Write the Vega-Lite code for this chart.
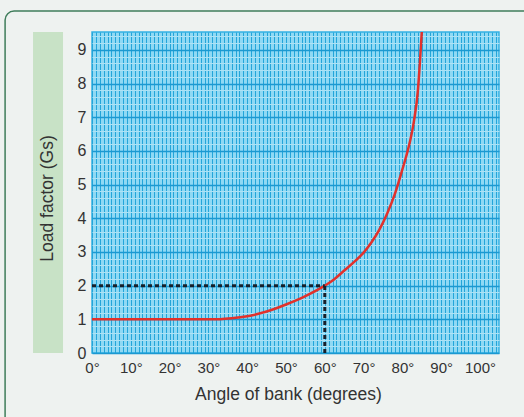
{
  "$schema": "https://vega.github.io/schema/vega-lite/v6.json",
  "width": 407,
  "height": 321,
  "autosize": {"type": "none"},
  "padding": {"left": 92, "top": 32, "right": 25, "bottom": 64},
  "background": "#eef2f0",
  "config": {
    "font": "Liberation Sans",
    "view": {"fill": "#8fd9f4", "stroke": "#33b1e4", "strokeWidth": 1.5}
  },
  "resolve": {"axis": {"y": "independent"}},
  "datasets": {
    "curve": [
      {"angle": 0, "load": 1},
      {"angle": 10, "load": 1},
      {"angle": 20, "load": 1},
      {"angle": 30, "load": 1},
      {"angle": 33, "load": 1.005},
      {"angle": 36, "load": 1.03},
      {"angle": 40, "load": 1.09},
      {"angle": 45, "load": 1.23},
      {"angle": 50, "load": 1.44},
      {"angle": 55, "load": 1.69},
      {"angle": 60, "load": 2},
      {"angle": 62, "load": 2.15},
      {"angle": 65, "load": 2.45},
      {"angle": 68, "load": 2.75},
      {"angle": 70, "load": 2.98},
      {"angle": 72, "load": 3.28},
      {"angle": 74, "load": 3.65},
      {"angle": 76, "load": 4.12},
      {"angle": 78, "load": 4.7},
      {"angle": 80, "load": 5.45},
      {"angle": 81, "load": 5.85},
      {"angle": 82, "load": 6.3},
      {"angle": 83, "load": 6.9},
      {"angle": 84, "load": 7.8},
      {"angle": 84.5, "load": 8.6},
      {"angle": 85, "load": 9.53}
    ],
    "guides": [
      {"angle": 0, "angle2": 60, "load": 2, "load2": 2},
      {"angle": 60, "angle2": 60, "load": 0, "load2": 2}
    ],
    "frame": [{"name": "panel"}]
  },
  "layer": [
    {
      "data": {"name": "frame"},
      "mark": {"type": "rect", "clip": false, "fill": null, "filled": false, "stroke": "#3f7d5b", "strokeWidth": 1.5, "cornerRadius": 9},
      "encoding": {
        "x": {"datum": -22.4, "type": "quantitative", "scale": {"domain": [0, 104.9], "nice": false, "zero": false}},
        "x2": {"datum": 160},
        "y": {"datum": 10.15, "type": "quantitative", "scale": {"domain": [0, 9.53], "nice": false}, "axis": null},
        "y2": {"datum": -12}
      }
    },
    {
      "data": {"name": "frame"},
      "mark": {"type": "rect", "clip": false, "fill": "#c8e2c6", "stroke": null},
      "encoding": {
        "x": {"datum": -15.2, "type": "quantitative", "scale": {"domain": [0, 104.9], "nice": false, "zero": false}},
        "x2": {"datum": -7.47},
        "y": {
          "datum": 0,
          "type": "quantitative",
          "scale": {"domain": [0, 9.53], "nice": false},
          "axis": {
            "orient": "left",
            "title": "Load factor (Gs)",
            "values": [0,1,2,3,4,5,6,7,8,9],
            "tickCount": 100,
            "format": "d",
            "labelOverlap": false,
            "labelBound": false,
            "labelFlush": false,
            "labelFontSize": 16,
            "labelColor": "#333333",
            "labelPadding": 6,
            "ticks": false,
            "domain": false,
            "grid": false,
            "zindex": 1,
            "titleFontSize": 17.5,
            "titleFontWeight": "normal",
            "titleColor": "#333333",
            "titleAngle": -90,
            "titleX": -45,
            "titleY": 166,
            "titleAnchor": null,
            "titleAlign": "center",
            "titleBaseline": "middle"
          }
        },
        "y2": {"datum": 9.53}
      }
    },
    {
      "data": {"name": "curve"},
      "mark": {"type": "line", "color": "#e2312b", "strokeWidth": 2.5, "interpolate": "monotone", "clip": false},
      "encoding": {
        "x": {
          "field": "angle",
          "type": "quantitative",
          "scale": {"domain": [0, 104.9], "nice": false, "zero": false},
          "axis": {
            "orient": "bottom",
            "title": "Angle of bank (degrees)",
            "values": [0,1,2,3,4,5,6,7,8,9,10,11,12,13,14,15,16,17,18,19,20,21,22,23,24,25,26,27,28,29,30,31,32,33,34,35,36,37,38,39,40,41,42,43,44,45,46,47,48,49,50,51,52,53,54,55,56,57,58,59,60,61,62,63,64,65,66,67,68,69,70,71,72,73,74,75,76,77,78,79,80,81,82,83,84,85,86,87,88,89,90,91,92,93,94,95,96,97,98,99,100,101,102,103,104],
            "tickCount": 1000,
            "labelExpr": "datum.value % 10 === 0 && datum.value <= 100 ? datum.value + '°' : ''",
            "labelOverlap": false,
            "labelBound": false,
            "labelFlush": false,
            "labelFontSize": 15,
            "labelColor": "#333333",
            "labelPadding": 7,
            "ticks": false,
            "domain": false,
            "grid": true,
            "gridColor": "#24a5d9",
            "gridWidth": 1,
            "gridOpacity": 1,
            "titleFontSize": 17.5,
            "titleFontWeight": "normal",
            "titleColor": "#333333",
            "titleX": 196,
            "titleY": 41,
            "titleAnchor": null,
            "titleAlign": "center",
            "titleBaseline": "middle"
          }
        },
        "y": {
          "field": "load",
          "type": "quantitative",
          "scale": {"domain": [0, 9.53], "nice": false},
          "axis": {
            "orient": "left",
            "title": null,
            "values": [0,0.2,0.4,0.6,0.8,1,1.2,1.4,1.6,1.8,2,2.2,2.4,2.6,2.8,3,3.2,3.4,3.6,3.8,4,4.2,4.4,4.6,4.8,5,5.2,5.4,5.6,5.8,6,6.2,6.4,6.6,6.8,7,7.2,7.4,7.6,7.8,8,8.2,8.4,8.6,8.8,9,9.2,9.4],
            "tickCount": 1000,
            "labels": false,
            "ticks": false,
            "domain": false,
            "grid": true,
            "zindex": 0,
            "gridColor": {"condition": {"test": "abs(datum.value - round(datum.value)) < 0.01", "value": "#1b99d1"}, "value": "#ade2f5"},
            "gridWidth": {"condition": {"test": "abs(datum.value - round(datum.value)) < 0.01", "value": 1.5}, "value": 1},
            "gridOpacity": 1
          }
        }
      }
    },
    {
      "data": {"name": "guides"},
      "mark": {"type": "rule", "color": "#17202b", "strokeWidth": 3, "strokeDash": [4, 3], "clip": false},
      "encoding": {
        "x": {"field": "angle", "type": "quantitative", "scale": {"domain": [0, 104.9], "nice": false, "zero": false}},
        "x2": {"field": "angle2"},
        "y": {"field": "load", "type": "quantitative", "scale": {"domain": [0, 9.53], "nice": false}, "axis": null},
        "y2": {"field": "load2"}
      }
    }
  ]
}
